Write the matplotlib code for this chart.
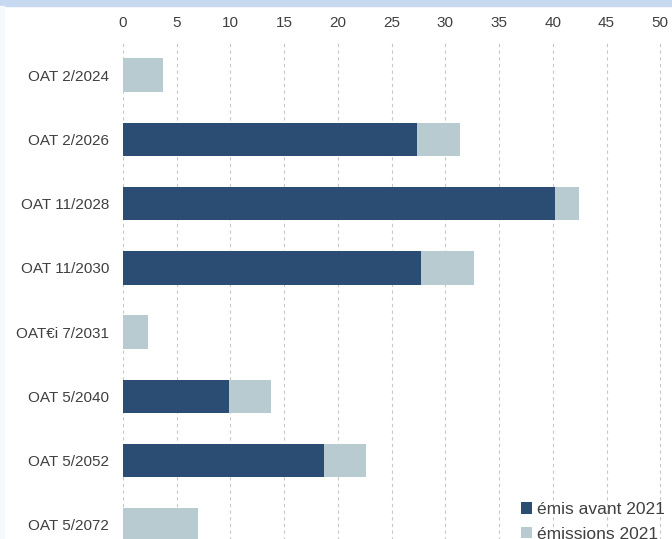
import matplotlib
matplotlib.use('Agg')
import matplotlib.pyplot as plt
from matplotlib.patches import Rectangle

plt.rcParams['font.family'] = ['Liberation Sans', 'DejaVu Sans']

# bond lines, top to bottom
categories = ['OAT 2/2024', 'OAT 2/2026', 'OAT 11/2028', 'OAT 11/2030',
              'OAT€i 7/2031', 'OAT 5/2040', 'OAT 5/2052', 'OAT 5/2072']
emis_avant = [0.0, 27.4, 40.2, 27.7, 0.0, 9.9, 18.7, 0.0]   # issued before 2021
emissions_2021 = [3.7, 4.0, 2.2, 5.0, 2.3, 3.9, 3.9, 7.0]  # issued in 2021
xticks = [0, 5, 10, 15, 20, 25, 30, 35, 40, 45, 50]

dark = '#2c4d73'
light = '#b8cbd0'
txt = '#404040'

W, H = 672, 539
fig = plt.figure(figsize=(W / 100, H / 100), dpi=100)

# top band and faint left strip of the original frame
fig.patches.append(Rectangle((0, 1 - 6 / H), 1, 6 / H, transform=fig.transFigure,
                             color='#c6d9f0', zorder=0))
fig.patches.append(Rectangle((0, 0), 4 / W, 1 - 6 / H, transform=fig.transFigure,
                             color='#f5f9fc', zorder=0))

left, right = 123 / W, 671 / W
top, bottom = 1 - 43 / H, 1 - 557 / H
ax = fig.add_axes([left, bottom, right - left, top - bottom])
ax.set_facecolor('none')

ypos = list(range(len(categories)))
ax.barh(ypos, emis_avant, height=0.52, color=dark, label='émis avant 2021', zorder=3)
ax.barh(ypos, emissions_2021, left=emis_avant, height=0.52, color=light,
        label='émissions 2021', zorder=3)

ax.set_xlim(0, 51)
ax.set_ylim(len(categories) - 0.5, -0.5)
ax.set_xticks(xticks)
ax.set_yticks(ypos)
ax.set_yticklabels(categories)
ax.xaxis.tick_top()
ax.tick_params(axis='x', length=0, pad=9, labelsize=11, labelcolor=txt)
ax.tick_params(axis='y', length=0, pad=10, labelsize=11, labelcolor=txt)
for s in ax.spines.values():
    s.set_visible(False)
ax.grid(axis='x', color='#c8c8c8', linestyle=(0, (3, 3)), linewidth=0.8, zorder=0)
ax.grid(axis='y', visible=False)

fig.legend(loc='upper left', bbox_to_anchor=(521 / W, 1 - 502 / H), frameon=False,
           fontsize=12.5, handlelength=0.65, handleheight=0.65, handletextpad=0.3,
           labelspacing=0.55, borderaxespad=0, borderpad=0, labelcolor=txt)

fig.savefig('out.png', dpi=100)
